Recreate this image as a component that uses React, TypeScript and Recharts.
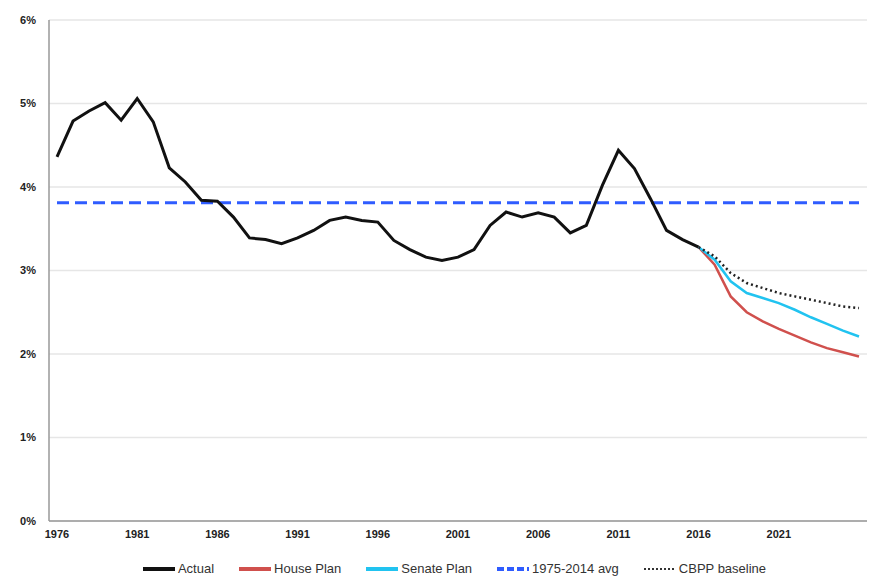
import React from 'react';
import {
  LineChart,
  Line,
  XAxis,
  YAxis,
  CartesianGrid,
  ReferenceLine,
} from 'recharts';

// years 1976-2026
const YEARS = [
  1976, 1977, 1978, 1979, 1980, 1981, 1982, 1983, 1984, 1985, 1986, 1987, 1988,
  1989, 1990, 1991, 1992, 1993, 1994, 1995, 1996, 1997, 1998, 1999, 2000, 2001,
  2002, 2003, 2004, 2005, 2006, 2007, 2008, 2009, 2010, 2011, 2012, 2013, 2014,
  2015, 2016, 2017, 2018, 2019, 2020, 2021, 2022, 2023, 2024, 2025, 2026,
];

// actual, 1976-2016 (% of GDP)
const ACTUAL = [
  4.36, 4.79, 4.91, 5.01, 4.8, 5.06, 4.78, 4.23, 4.06, 3.84, 3.83, 3.64, 3.39,
  3.37, 3.32, 3.39, 3.48, 3.6, 3.64, 3.6, 3.58, 3.36, 3.25, 3.16, 3.12, 3.16,
  3.25, 3.54, 3.7, 3.64, 3.69, 3.64, 3.45, 3.54, 4.02, 4.44, 4.22, 3.86, 3.48,
  3.37, 3.28,
];

// projections, 2016-2026
const HOUSE_PLAN = [3.28, 3.07, 2.69, 2.5, 2.39, 2.3, 2.22, 2.14, 2.07, 2.02, 1.97];
const SENATE_PLAN = [3.28, 3.13, 2.87, 2.73, 2.67, 2.61, 2.53, 2.44, 2.36, 2.28, 2.21];
const CBPP_BASELINE = [3.28, 3.17, 2.97, 2.85, 2.79, 2.73, 2.69, 2.65, 2.61, 2.57, 2.55];

const AVG_1975_2014 = 3.81;
const X_TICKS = [1976, 1981, 1986, 1991, 1996, 2001, 2006, 2011, 2016, 2021];
const Y_TICKS = [0, 1, 2, 3, 4, 5, 6];

const PROJ_START = 2016;

const data = YEARS.map((year, i) => {
  const j = year - PROJ_START;
  return {
    year,
    actual: i < ACTUAL.length ? ACTUAL[i] : null,
    house: j >= 0 ? HOUSE_PLAN[j] : null,
    senate: j >= 0 ? SENATE_PLAN[j] : null,
    cbpp: j >= 0 ? CBPP_BASELINE[j] : null,
  };
});

const LEGEND_ITEMS = [
  { label: 'Actual', color: '#111111', dash: undefined },
  { label: 'House Plan', color: '#d0504d', dash: undefined },
  { label: 'Senate Plan', color: '#21c3f0', dash: undefined },
  { label: '1975-2014 avg', color: '#2f5cff', dash: '7 3' },
  { label: 'CBPP baseline', color: '#333333', dash: '2 2' },
];

const tickStyle = {
  fontFamily: 'Liberation Sans, Arial, sans-serif',
  fontSize: 11,
  fontWeight: 700,
  fill: '#222',
};

function ChartLegend() {
  return (
    <div
      style={{
        position: 'absolute',
        left: 0,
        top: 561,
        width: 877,
        display: 'flex',
        justifyContent: 'center',
        gap: 25,
        fontFamily: 'Liberation Sans, Arial, sans-serif',
        fontSize: 13,
        lineHeight: '16px',
        color: '#333',
        paddingLeft: 32,
        boxSizing: 'border-box',
      }}
    >
      {LEGEND_ITEMS.map((item) => (
        <div key={item.label} style={{ display: 'flex', alignItems: 'center' }}>
          <svg width={32} height={6} style={{ marginRight: 3 }}>
            <line
              x1={0}
              y1={3}
              x2={32}
              y2={3}
              stroke={item.color}
              strokeWidth={item.dash === '2 2' ? 2 : 4}
              strokeDasharray={item.dash}
            />
          </svg>
          <span>{item.label}</span>
        </div>
      ))}
    </div>
  );
}

export default function App() {
  return (
    <div style={{ position: 'absolute', left: 0, top: 0, width: 877, height: 577, background: '#fff' }}>
      <LineChart
        width={877}
        height={577}
        data={data}
        margin={{ top: 20, right: 10, left: 0, bottom: 26 }}
      >
        <CartesianGrid vertical={false} stroke="#e6e6e6" strokeWidth={1.5} />
        <XAxis
          dataKey="year"
          type="category"
          ticks={X_TICKS}
          interval={0}
          padding={{ left: 8, right: 8 }}
          tick={tickStyle}
          tickLine={false}
          tickSize={0}
          tickMargin={9}
          height={30}
          stroke="#999"
          strokeWidth={1.5}
        />
        <YAxis
          domain={[0, 6]}
          ticks={Y_TICKS}
          tickFormatter={(v) => `${v}%`}
          tick={tickStyle}
          tickLine={false}
          tickSize={0}
          tickMargin={13}
          width={49}
          stroke="#999"
          strokeWidth={1.5}
        />
        <ReferenceLine
          segment={[
            { x: 1976, y: AVG_1975_2014 },
            { x: 2026, y: AVG_1975_2014 },
          ]}
          stroke="#2f5cff"
          strokeWidth={3}
          strokeDasharray="12 6"
          ifOverflow="visible"
        />
        <Line
          dataKey="actual"
          stroke="#111111"
          strokeWidth={3}
          dot={false}
          isAnimationActive={false}
        />
        <Line
          dataKey="house"
          stroke="#d0504d"
          strokeWidth={2.5}
          dot={false}
          isAnimationActive={false}
        />
        <Line
          dataKey="senate"
          stroke="#21c3f0"
          strokeWidth={2.5}
          dot={false}
          isAnimationActive={false}
        />
        <Line
          dataKey="cbpp"
          stroke="#222222"
          strokeWidth={2.5}
          strokeDasharray="2 3"
          dot={false}
          isAnimationActive={false}
        />
      </LineChart>
      <ChartLegend />
    </div>
  );
}
